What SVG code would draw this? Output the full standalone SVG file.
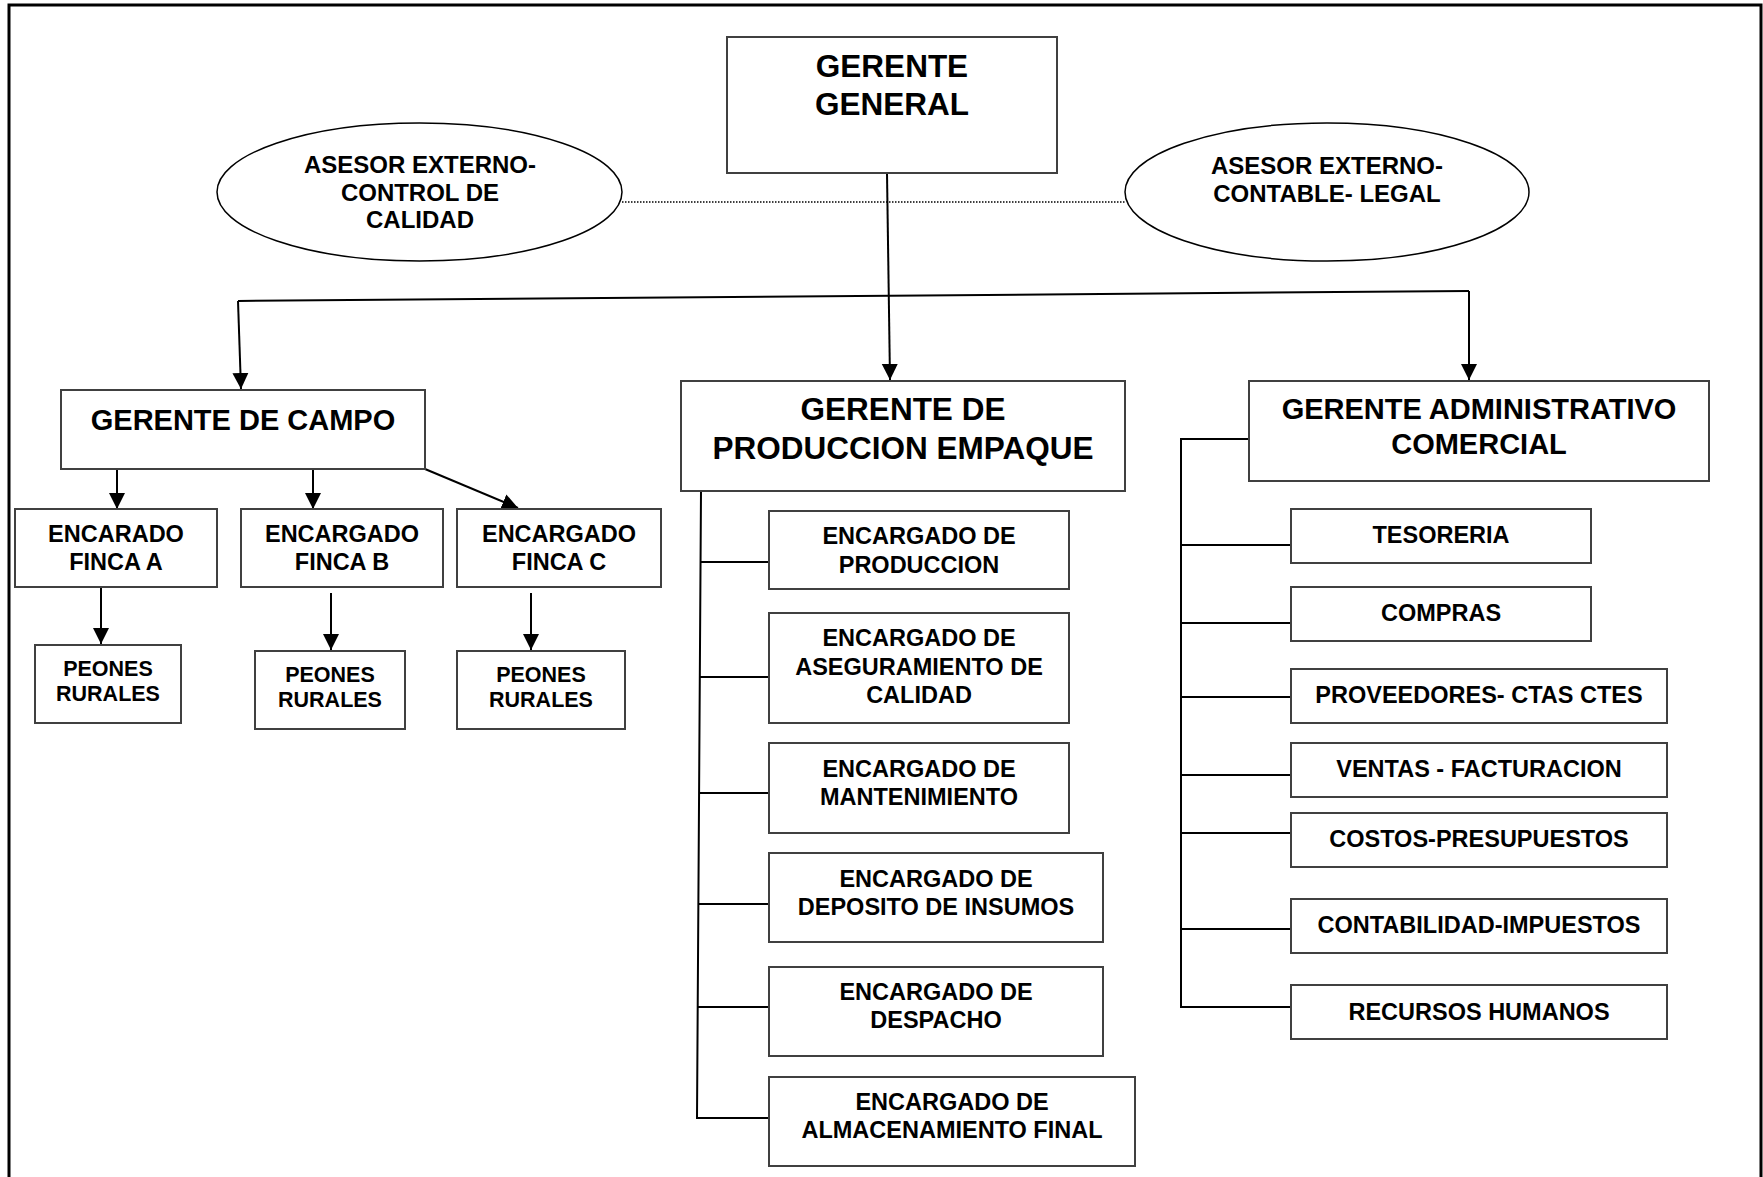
<svg xmlns="http://www.w3.org/2000/svg" width="1763" height="1177" viewBox="0 0 1763 1177">
<style>
  text { font-family: "Liberation Sans", Arial, sans-serif; font-weight: bold; fill: #000; text-anchor: middle; }
  .box { fill: #fff; stroke: #404040; stroke-width: 2; }
  .ell { fill: #fff; stroke: #000; stroke-width: 1.5; }
  .c { fill: none; stroke: #000; stroke-width: 2; }
  .arr { fill: none; stroke: #000; stroke-width: 2; marker-end: url(#ah); }
  .dot { fill: none; stroke: #000; stroke-width: 1.5; stroke-dasharray: 1.5 1.5; }
  .t31 { font-size: 31.5px; }
  .t29 { font-size: 29px; }
  .t24 { font-size: 24px; }
  .t23 { font-size: 23.5px; }
  .t21 { font-size: 21.5px; }
</style>
<defs>
  <marker id="ah" markerUnits="userSpaceOnUse" markerWidth="17" markerHeight="18" refX="16" refY="8.5" orient="auto">
    <path d="M0,0.5 L16,8.5 L0,16.5 z" fill="#000"/>
  </marker>
</defs>
<rect width="1763" height="1177" fill="#fff"/>
<path d="M9,1177 V5 H1761 V1177" fill="none" stroke="#000" stroke-width="3"/>

<g id="connectors">
  <line class="dot" x1="622" y1="202" x2="1125" y2="202"/>
  <line class="arr" x1="887" y1="173" x2="890" y2="380"/>
  <path class="c" d="M238,301 L1469,291"/>
  <line class="arr" x1="238" y1="301" x2="241" y2="389"/>
  <line class="arr" x1="1469" y1="291" x2="1469" y2="380"/>
  <line class="arr" x1="117" y1="469" x2="117" y2="509"/>
  <line class="arr" x1="313" y1="469" x2="313" y2="509"/>
  <line class="arr" x1="425" y1="469" x2="518" y2="508"/>
  <line class="arr" x1="101" y1="587" x2="101" y2="644"/>
  <line class="arr" x1="331" y1="593" x2="331" y2="650"/>
  <line class="arr" x1="531" y1="593" x2="531" y2="650"/>
  <path class="c" d="M701,491 L697,1118 H771"/>
  <line class="c" x1="700.5" y1="562" x2="769" y2="562"/>
  <line class="c" x1="699.8" y1="677" x2="769" y2="677"/>
  <line class="c" x1="699" y1="793" x2="769" y2="793"/>
  <line class="c" x1="698.3" y1="904" x2="769" y2="904"/>
  <line class="c" x1="697.6" y1="1007" x2="775" y2="1007"/>
  <path class="c" d="M1249,439 H1181 V1007 H1291"/>
  <line class="c" x1="1181" y1="545" x2="1291" y2="545"/>
  <line class="c" x1="1181" y1="623" x2="1291" y2="623"/>
  <line class="c" x1="1181" y1="697" x2="1291" y2="697"/>
  <line class="c" x1="1181" y1="775" x2="1291" y2="775"/>
  <line class="c" x1="1181" y1="833" x2="1291" y2="833"/>
  <line class="c" x1="1181" y1="929" x2="1291" y2="929"/>
</g>

<g id="gerente-general">
  <rect class="box" x="727" y="37" width="330" height="136"/>
  <text class="t31" x="892" y="77">GERENTE</text>
  <text class="t31" x="892" y="115">GENERAL</text>
</g>
<g id="asesor-calidad">
  <ellipse class="ell" cx="419.5" cy="192" rx="202.5" ry="69"/>
  <text class="t24" x="420" y="173">ASESOR EXTERNO-</text>
  <text class="t24" x="420" y="200.5">CONTROL DE</text>
  <text class="t24" x="420" y="227.5">CALIDAD</text>
</g>
<g id="asesor-contable">
  <ellipse class="ell" cx="1327" cy="192" rx="202" ry="69"/>
  <text class="t24" x="1327" y="174">ASESOR EXTERNO-</text>
  <text class="t24" x="1327" y="201.5">CONTABLE- LEGAL</text>
</g>

<g id="gerente-campo">
  <rect class="box" x="61" y="390" width="364" height="79"/>
  <text class="t29" x="243" y="430">GERENTE DE CAMPO</text>
</g>
<g id="finca-a">
  <rect class="box" x="15" y="509" width="202" height="78"/>
  <text class="t23" x="116" y="542">ENCARADO</text>
  <text class="t23" x="116" y="570">FINCA A</text>
</g>
<g id="finca-b">
  <rect class="box" x="241" y="509" width="202" height="78"/>
  <text class="t23" x="342" y="542">ENCARGADO</text>
  <text class="t23" x="342" y="570">FINCA B</text>
</g>
<g id="finca-c">
  <rect class="box" x="457" y="509" width="204" height="78"/>
  <text class="t23" x="559" y="542">ENCARGADO</text>
  <text class="t23" x="559" y="570">FINCA C</text>
</g>
<g id="peones-a">
  <rect class="box" x="35" y="645" width="146" height="78"/>
  <text class="t21" x="108" y="676">PEONES</text>
  <text class="t21" x="108" y="701">RURALES</text>
</g>
<g id="peones-b">
  <rect class="box" x="255" y="651" width="150" height="78"/>
  <text class="t21" x="330" y="682">PEONES</text>
  <text class="t21" x="330" y="707">RURALES</text>
</g>
<g id="peones-c">
  <rect class="box" x="457" y="651" width="168" height="78"/>
  <text class="t21" x="541" y="682">PEONES</text>
  <text class="t21" x="541" y="707">RURALES</text>
</g>

<g id="gerente-produccion">
  <rect class="box" x="681" y="381" width="444" height="110"/>
  <text class="t31" x="903" y="420">GERENTE DE</text>
  <text class="t31" x="903" y="459">PRODUCCION EMPAQUE</text>
</g>
<g id="enc-produccion">
  <rect class="box" x="769" y="511" width="300" height="78"/>
  <text class="t23" x="919" y="544">ENCARGADO DE</text>
  <text class="t23" x="919" y="573">PRODUCCION</text>
</g>
<g id="enc-calidad">
  <rect class="box" x="769" y="613" width="300" height="110"/>
  <text class="t23" x="919" y="646">ENCARGADO DE</text>
  <text class="t23" x="919" y="674.5">ASEGURAMIENTO DE</text>
  <text class="t23" x="919" y="702.5">CALIDAD</text>
</g>
<g id="enc-mantenimiento">
  <rect class="box" x="769" y="743" width="300" height="90"/>
  <text class="t23" x="919" y="777">ENCARGADO DE</text>
  <text class="t23" x="919" y="805">MANTENIMIENTO</text>
</g>
<g id="enc-deposito">
  <rect class="box" x="769" y="853" width="334" height="89"/>
  <text class="t23" x="936" y="886.5">ENCARGADO DE</text>
  <text class="t23" x="936" y="915">DEPOSITO DE INSUMOS</text>
</g>
<g id="enc-despacho">
  <rect class="box" x="769" y="967" width="334" height="89"/>
  <text class="t23" x="936" y="999.5">ENCARGADO DE</text>
  <text class="t23" x="936" y="1028">DESPACHO</text>
</g>
<g id="enc-almacenamiento">
  <rect class="box" x="769" y="1077" width="366" height="89"/>
  <text class="t23" x="952" y="1109.5">ENCARGADO DE</text>
  <text class="t23" x="952" y="1138">ALMACENAMIENTO FINAL</text>
</g>

<g id="gerente-administrativo">
  <rect class="box" x="1249" y="381" width="460" height="100"/>
  <text class="t29" x="1479" y="419">GERENTE ADMINISTRATIVO</text>
  <text class="t29" x="1479" y="453.5">COMERCIAL</text>
</g>
<g id="tesoreria">
  <rect class="box" x="1291" y="509" width="300" height="54"/>
  <text class="t23" x="1441" y="543">TESORERIA</text>
</g>
<g id="compras">
  <rect class="box" x="1291" y="587" width="300" height="54"/>
  <text class="t23" x="1441" y="620.5">COMPRAS</text>
</g>
<g id="proveedores">
  <rect class="box" x="1291" y="669" width="376" height="54"/>
  <text class="t23" x="1479" y="703">PROVEEDORES- CTAS CTES</text>
</g>
<g id="ventas">
  <rect class="box" x="1291" y="743" width="376" height="54"/>
  <text class="t23" x="1479" y="777">VENTAS - FACTURACION</text>
</g>
<g id="costos">
  <rect class="box" x="1291" y="813" width="376" height="54"/>
  <text class="t23" x="1479" y="847">COSTOS-PRESUPUESTOS</text>
</g>
<g id="contabilidad">
  <rect class="box" x="1291" y="899" width="376" height="54"/>
  <text class="t23" x="1479" y="932.5">CONTABILIDAD-IMPUESTOS</text>
</g>
<g id="rrhh">
  <rect class="box" x="1291" y="985" width="376" height="54"/>
  <text class="t23" x="1479" y="1019.5">RECURSOS HUMANOS</text>
</g>
</svg>
